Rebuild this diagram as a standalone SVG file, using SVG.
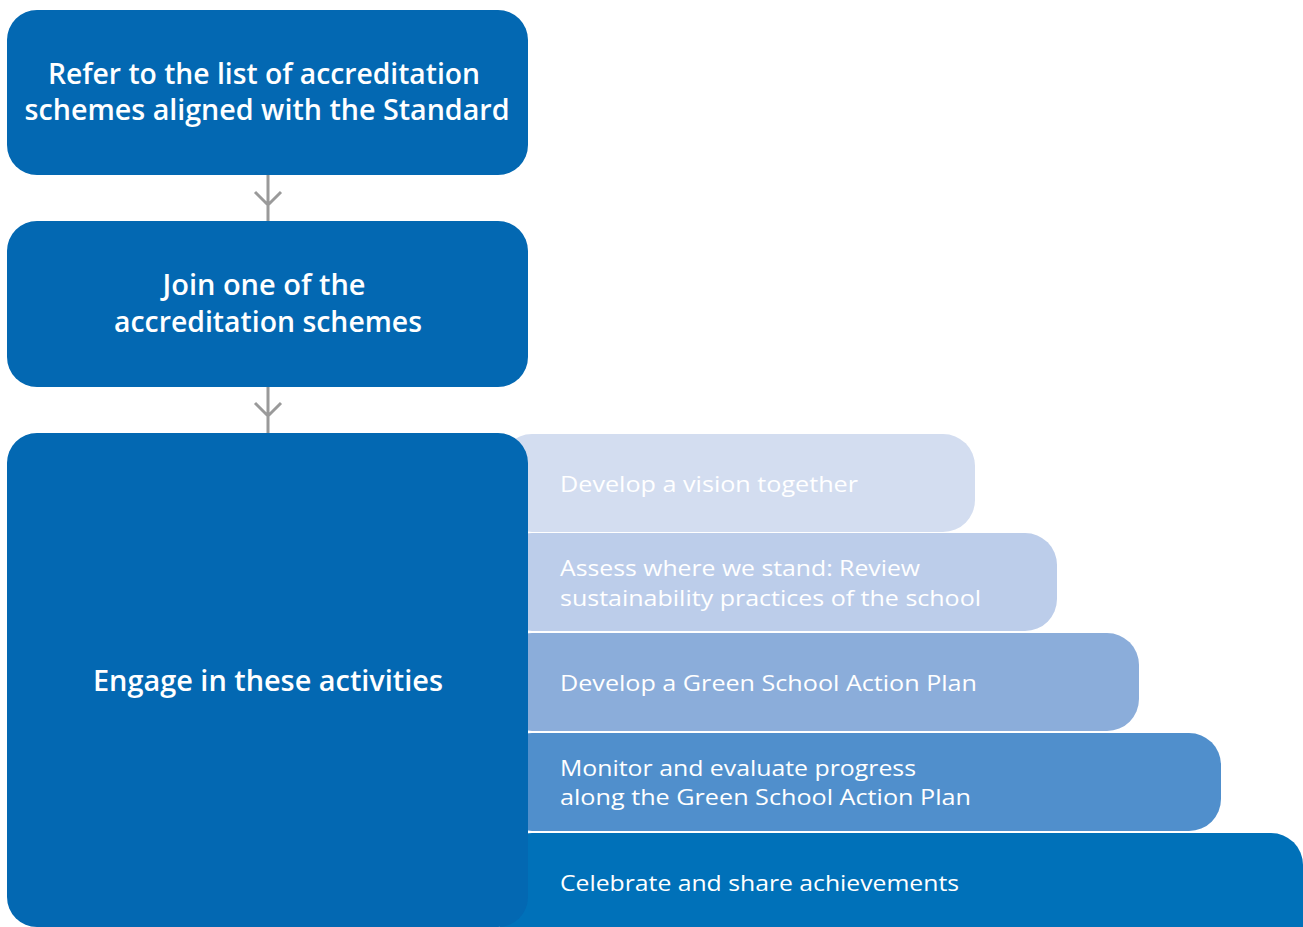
<svg xmlns="http://www.w3.org/2000/svg" width="1303" height="927" viewBox="0 0 1303 927">
<style>
.box{fill:#0368b2}
.t{font-family:"Open Sans","Liberation Sans",sans-serif;font-weight:600;font-size:28px;fill:#fff;text-anchor:middle}
.s{font-family:"Open Sans","Liberation Sans",sans-serif;font-weight:400;font-size:22px;fill:#fff}
.c{stroke:#9a9a9a;stroke-width:3;fill:none}
</style>
<rect width="1303" height="927" fill="#fff"/>
<g id="bar5"><rect x="500" y="833" width="803" height="130" rx="32" fill="#0071b9"/>
<text class="s" x="560" y="891" textLength="399" lengthAdjust="spacingAndGlyphs">Celebrate and share achievements</text></g>
<g id="bar4"><rect x="500" y="733" width="721" height="98" rx="32" fill="#508fcc"/>
<text class="s" x="560" y="776" textLength="356" lengthAdjust="spacingAndGlyphs">Monitor and evaluate progress</text>
<text class="s" x="560" y="805" textLength="411" lengthAdjust="spacingAndGlyphs">along the Green School Action Plan</text></g>
<g id="bar3"><rect x="500" y="633" width="639" height="98" rx="32" fill="#8badda"/>
<text class="s" x="560" y="691" textLength="417" lengthAdjust="spacingAndGlyphs">Develop a Green School Action Plan</text></g>
<g id="bar2"><rect x="500" y="533" width="557" height="98" rx="32" fill="#bccdea"/>
<text class="s" x="560" y="576" textLength="360" lengthAdjust="spacingAndGlyphs">Assess where we stand: Review</text>
<text class="s" x="560" y="606" textLength="421" lengthAdjust="spacingAndGlyphs">sustainability practices of the school</text></g>
<g id="bar1"><rect x="500" y="434" width="475" height="98" rx="32" fill="#d3ddf0"/>
<text class="s" x="560" y="492" textLength="298" lengthAdjust="spacingAndGlyphs">Develop a vision together</text></g>
<g id="connectors">
<path class="c" d="M268 175V221M255 192L268 205L281 192"/>
<path class="c" d="M268 387V433M255 403L268 416L281 403"/>
</g>
<g id="box1"><rect class="box" x="7" y="10" width="521" height="165" rx="30"/>
<text class="t" x="264" y="84" textLength="432" lengthAdjust="spacingAndGlyphs">Refer to the list of accreditation</text>
<text class="t" x="267" y="120" textLength="485" lengthAdjust="spacingAndGlyphs">schemes aligned with the Standard</text></g>
<g id="box2"><rect class="box" x="7" y="221" width="521" height="166" rx="30"/>
<text class="t" x="264" y="295" textLength="203" lengthAdjust="spacingAndGlyphs">Join one of the</text>
<text class="t" x="268" y="332" textLength="308" lengthAdjust="spacingAndGlyphs">accreditation schemes</text></g>
<g id="box3"><rect class="box" x="7" y="433" width="521" height="494" rx="30"/>
<text class="t" x="268" y="691" textLength="350" lengthAdjust="spacingAndGlyphs">Engage in these activities</text></g>
</svg>
